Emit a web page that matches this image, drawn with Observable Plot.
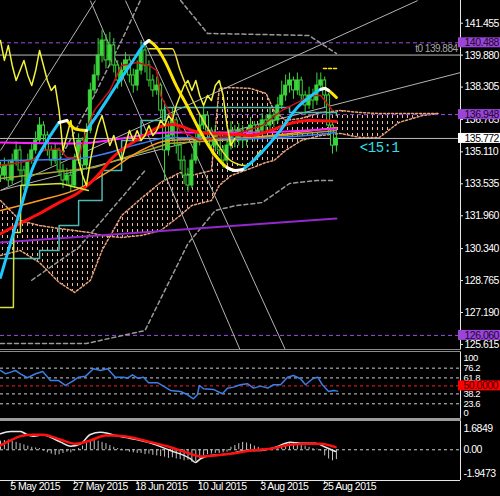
<!DOCTYPE html>
<html><head><meta charset="utf-8">
<script src="https://cdn.jsdelivr.net/npm/d3@7"></script>
<script src="https://cdn.jsdelivr.net/npm/@observablehq/plot@0.6"></script>
<style>
html,body{margin:0;padding:0;background:#000;}
#chart{width:500px;height:496px;background:#000;overflow:hidden;}
#chart svg{display:block;}
#chart svg text{letter-spacing:-0.5px;}
.sep1{width:461px;height:3px;box-sizing:border-box;border-top:1px solid #8c8c8c;border-bottom:1px solid #8c8c8c;background:#000;}
.sep2{width:461px;height:3px;background:#9c9c9c;}
</style></head><body><div id="chart"></div>
<script>
// ---------- data ----------
const dates = ["5 May 2015","27 May 2015","18 Jun 2015","10 Jul 2015","3 Aug 2015","25 Aug 2015"];
const dateBars = [3,19,35,51,67,83];

const opens = [134.30,133.94,134.44,133.70,134.68,135.18,134.19,133.45,134.68,135.18,
135.67,136.41,135.92,135.18,134.68,135.18,134.19,133.70,133.94,133.45,
134.68,135.67,134.44,136.16,138.14,138.88,139.86,140.60,139.62,140.36,
139.37,138.63,139.12,139.62,138.88,138.38,139.12,140.11,139.37,138.63,
138.14,138.38,137.15,135.18,135.92,136.66,135.42,134.68,133.94,133.45,
134.68,135.67,136.41,136.90,136.16,135.42,135.92,135.18,134.68,135.42,
136.16,135.67,136.16,135.67,135.92,136.41,135.92,136.16,136.66,136.41,
136.90,136.66,137.40,137.89,138.38,138.63,138.14,138.63,137.89,137.40,
137.89,137.64,138.38,138.63,137.89,136.41,135.42];
const closes = [133.94,134.44,133.70,134.68,135.18,134.19,133.45,134.68,135.18,135.67,
136.41,135.92,135.18,134.68,135.18,134.19,133.70,133.94,133.45,134.68,
135.67,134.44,136.16,138.14,138.88,139.86,140.60,139.62,140.36,139.37,
138.63,139.12,139.62,138.88,138.38,139.12,140.11,139.37,138.63,138.14,
138.38,137.15,135.18,135.92,136.66,135.42,134.68,133.94,133.45,134.68,
135.67,136.41,136.90,136.16,135.42,135.92,135.18,134.68,135.42,136.16,
135.67,136.16,135.67,135.92,136.41,135.92,136.16,136.66,136.41,136.90,
136.66,137.40,137.89,138.38,138.63,138.14,138.63,137.89,137.40,137.89,
137.64,138.38,138.63,137.89,136.41,135.42,135.77];
const highs = [134.6,134.8,134.7,135.0,135.6,135.4,134.4,135.0,135.5,136.1,
136.8,136.6,136.1,135.4,135.5,135.3,134.5,134.3,134.2,135.0,
136.0,135.8,136.5,138.5,139.4,140.7,141.1,140.9,141.0,140.7,
139.6,139.5,140.0,139.8,139.2,139.6,140.6,140.4,139.6,138.9,
138.8,138.5,137.6,136.6,137.3,136.8,135.6,134.9,134.3,135.0,
136.0,136.9,137.5,137.1,136.3,136.4,136.1,135.4,135.8,136.6,
136.4,136.5,136.4,136.3,136.8,136.6,136.5,137.0,136.9,137.3,
137.1,137.8,138.6,138.9,139.0,138.8,139.0,138.8,138.1,138.3,
138.2,139.0,139.0,138.8,138.0,136.6,136.3];
const lows = [133.6,133.7,133.4,133.5,134.4,133.9,133.2,133.3,134.5,135.0,
135.5,135.6,134.9,134.4,134.5,133.9,133.3,133.4,133.1,133.3,
134.5,133.4,134.2,136.0,137.9,138.6,139.5,139.2,139.3,139.0,
138.2,138.3,138.9,138.5,138.0,138.1,138.9,139.0,138.3,137.8,
137.9,136.8,133.7,134.9,135.6,135.0,134.2,133.5,133.1,133.3,
134.5,135.4,136.2,135.8,135.0,135.1,134.9,134.3,134.5,135.2,
135.3,135.4,135.3,135.4,135.7,135.6,135.7,136.0,136.1,136.2,
136.3,136.5,137.2,137.6,138.0,137.7,137.9,137.5,136.9,137.2,
137.2,137.4,138.1,137.3,135.9,135.0,135.1];

// Ichimoku cloud (bar index, span A, span B)
const cloudIdx = [0,5,10,15,19,23,26,28,31,36,41,46,49,54,56,59,64,68,70,73,77,82,87,92,97,102,108,112];
const spanA = [132.71,131.73,131.48,131.33,131.23,131.13,130.99,130.94,131.97,132.81,133.60,134.09,133.95,134.19,138.24,138.28,138.24,137.99,137.15,136.66,136.76,137.05,137.15,137.05,137.00,137.00,137.00,137.00];
const spanB = [130.00,130.25,129.65,128.67,128.18,128.77,130.25,130.94,130.89,130.99,131.23,131.97,132.47,132.71,133.45,133.94,134.29,134.59,134.68,135.18,135.67,135.92,136.02,135.82,135.82,136.56,136.90,137.00];

// indicator lines: [bar index, price]
const trendLine = [[0,128.92],[5,132.22],[8,134.19],[12,135.67],[15,136.56],[17,136.66],[19,136.26],[22,136.16],[25,137.00],[30,138.48],[34,139.62],[37,140.45],[38,140.60],[40,140.26],[42,139.62],[45,138.38],[48,137.30],[51,136.16],[55,134.93],[58,134.34],[60,134.19],[62,134.24],[64,134.54],[68,135.32],[72,136.26],[76,137.30],[79,137.79],[82,138.19],[83,138.24],[84,138.14],[86,137.79]];
const trendUp = [[0,16],[22,38],[61,83]];
const trendDown = [[17,22],[38,60],[83,86]];
const trendTurn = [[15,18],[20,23],[37,39],[58,62],[82,84]];
const yellow2 = [[38,140.20],[44,140.20],[46,139.12],[48.6,137.89],[51.2,136.90],[55,135.67],[58.9,134.68],[62.7,134.44],[66.6,135.18]];
const redMA = [[0,131.08],[5,131.58],[10,132.07],[15,132.61],[20,133.11],[26,134.19],[28,134.68],[36,135.82],[41,136.36],[44,136.46],[51,136.07],[59,135.97],[64,135.92],[69,136.16],[74,136.51],[79,136.66],[86,136.61]];
const magentaMA = [[0,135.57],[20,135.52],[31,135.77],[43,136.06],[64,136.06],[86,136.26]];
const blueMA = [[0,134.68],[20,134.78],[36,135.52],[43,135.82],[64,135.77],[86,136.07]];
const orangeMA = [[0,132.22],[10,132.71],[20,133.30],[28,134.19],[36,135.18],[43,135.67],[64,135.82],[86,136.31]];
const tealLine = [[0,129.85],[10,130.25],[15,131.48],[20,132.71],[26,134.19],[31,135.67],[36,136.66],[42,137.30],[68,137.30],[74,137.05],[86,136.90]];
const oliveMA = [[0,133.80],[24,134.34],[43,135.52],[64,135.77],[86,136.16]];
const tenkan = [[0,134.44],[8,134.68],[11,135.18],[15,135.27],[17,134.83],[20,134.78],[22,136.16],[24,137.15],[28,138.14],[31,139.37],[35,139.52],[38,139.37],[40,139.12],[41,137.89],[43,137.15],[46,136.16],[51,135.67],[59,135.92],[67,136.41],[72,137.15],[77,137.64],[80,137.89],[82,137.89],[85,137.15]];
const purpleMA = [[0,130.64],[86,131.82]];
const stepYellow = [[0,127.44],[3.3,127.44],[3.4,131.13],[5.1,131.13],[5.2,133.45],[15.4,133.55],[22.5,133.21]];
const upperBand = [[15,134.68],[24,137.89],[31,140.60],[37,143.07],[44,143.07],[53,140.95],[79,140.85],[86,139.96]];
const lowerBand = [[0,125.66],[22,125.66],[37,126.30],[48,130.59],[55,132.22],[60,132.45],[67,132.61],[74,133.55],[81,133.70],[85,133.70]];
const lowerBand2 = [[8,128.78],[20,130.39],[37,134.19]];
const highMark = [[82.7,139.22],[86.3,139.22]];
// straight trend / fan lines: [bar1, price1, bar2, price2]
const grayLines = [[0,135.18,24.3,142.57],[23,142.57,61.4,125.32],[32,142.57,73,125.32],[0,133.21,106.8,142.57],[0,133.21,117.77,139.02]];

const priceTicks = [141.455,139.880,138.305,136.705,135.110,133.535,131.960,130.340,128.765,127.190,125.615];
const purpleLevels = [140.488,136.948,126.060];
const t0Level = 139.884;
const currentPrice = 135.772;
const ratioLabel = "<15:1";
const ratioPos = [92, 135.32];

// oscillator (blue) [bar index, value]
const oscLine = [[0,72.8],[1.3,67.9],[2.6,70.3],[3.8,72.8],[5.1,67.9],[6.9,62],[9,67.9],[10.8,71.3],[12.8,58],[14.8,58],[16.6,50.7],[18.4,56.6],[20,62.9],[21.8,64.4],[23.8,75.3],[25.6,72.8],[27.4,75.3],[29.4,62.9],[31.5,62.9],[32.5,61.4],[33.8,66.4],[35.1,61.4],[36.6,62.9],[37.9,54.7],[40.2,54.7],[41.7,49.8],[43.5,43.3],[46.1,41.8],[47.9,36.9],[49.4,31],[50.4,36.9],[50.9,50.6],[52,45.8],[54.5,44.8],[56.8,38.4],[58.1,46.7],[59.7,48.2],[61.4,51.7],[63.2,53.2],[64.8,46.7],[66.6,49.7],[68.4,46.7],[69.9,51.7],[71.7,51.7],[73.5,62.9],[75,65.4],[76.8,60.6],[78.1,51.7],[79.9,60.6],[81.2,62.9],[82.4,51.7],[84,41.8],[85.3,43.3],[86.3,42.3]];
const oscLevels = [76.2,61.8,38.2,23.6];

// MACD
const macdHist = [0.7,0.75,0.8,0.7,0.6,0.5,0.4,0.3,0.2,0.15,
0.1,-0.1,-0.25,-0.35,-0.45,-0.4,-0.3,-0.2,-0.25,-0.1,
0.1,0.3,0.5,0.7,0.75,0.7,0.6,0.5,0.35,0.2,
0.1,0.05,-0.1,-0.2,-0.25,-0.3,-0.3,-0.4,-0.35,-0.45,
-0.5,-0.55,-0.6,-0.7,-0.65,-0.75,-0.8,-0.9,-0.85,-1.0,
-0.95,-0.7,-0.5,-0.4,-0.35,-0.3,-0.3,-0.25,-0.2,0.2,
0.35,0.5,0.6,0.55,0.45,0.3,0.2,0.1,0.05,-0.05,
0.05,0.1,0.2,0.35,0.5,0.55,0.5,0.4,0.3,0.2,
0.1,0.05,-0.1,-0.5,-0.75,-0.9,-0.8];
const macdWhite = [[0,1.30],[2.6,1.49],[5.1,1.49],[6.4,1.30],[8.4,1.11],[11,1.22],[12.8,1.02],[15.4,0.62],[17.9,0.29],[20.5,0.49],[23,1.24],[25.6,1.43],[27.4,1.35],[29.4,1.16],[33.3,0.92],[38.4,0.54],[43.5,-0.06],[48.6,-0.73],[49.9,-1.03],[51.2,-0.73],[53.8,-0.46],[58.9,-0.33],[62.7,-0.06],[66.6,-0.06],[70.4,0.21],[74.2,0.62],[76.8,0.54],[80.6,0.54],[83.2,0.21],[85.8,-0.14]];
const macdRed = [[0,0.35],[2.6,0.76],[5.1,1.11],[8.4,1.22],[11,1.22],[15.4,0.81],[19.2,0.49],[23,0.76],[26.9,1.16],[29.4,1.16],[33.3,1.02],[38.4,0.62],[43.5,0.21],[48.6,-0.33],[51.2,-0.54],[55,-0.46],[58.9,-0.33],[64,-0.06],[69.1,0.08],[74.2,0.41],[79.4,0.49],[81.9,0.49],[85.8,0.21]];
const macdLabels = [1.6849, 0, -1.9473];

// ---------- drawing ----------
const FONT = '"Liberation Sans",Arial,sans-serif';
const FS = 10.5;
const XMAX = 117.77;
const GREEN = "#3bd63b";
const PURPLE = "#9b4fe0";
const AXIS = "#e6e6e6";
const baseStyle = {background: "#000", color: "#fff", fontFamily: FONT, fontSize: "10.5px", overflow: "hidden"};
const P = a => a.map(([i, v]) => ({i, v}));
const bars = closes.map((c, i) => ({i, o: opens[i], h: highs[i], l: lows[i], c}));
const cloud = cloudIdx.map((i, k) => ({i, a: spanA[k], b: spanB[k]}));
const chikou = closes.slice(26).map((c, k) => ({i: k, v: c}));
const trendPts = P(trendLine);
const inRange = ([a, b]) => trendPts.filter(d => d.i >= a && d.i <= b);
const ln = (arr, o) => Plot.line(P(arr), {x: "i", y: "v", ...o});
const lbl = {textAnchor: "start", fill: "#fff", fontSize: FS, fontFamily: FONT};
const lblS = {...lbl, fontSize: 9.5};

const chart = document.getElementById("chart");

// main price panel
const main = Plot.plot({
  width: 500, height: 349, marginLeft: 0, marginRight: 40, marginTop: 0, marginBottom: 0,
  style: baseStyle,
  x: {domain: [0, XMAX], axis: null},
  y: {domain: [125.365, 142.574], axis: null},
  marks: [
    Plot.areaY(cloud, {x: "i", y1: "a", y2: "b", fill: "url(#cloudDots)"}),
    Plot.line(cloud, {x: "i", y: "a", stroke: "#e8a07a", strokeDasharray: "2,2"}),
    Plot.line(cloud, {x: "i", y: "b", stroke: "#e8a07a", strokeDasharray: "2,2"}),
    Plot.ruleY(purpleLevels, {x1: 0, x2: XMAX, stroke: PURPLE, strokeDasharray: "4,3"}),
    Plot.ruleY([t0Level, currentPrice], {x1: 0, x2: XMAX, stroke: "#bdbdbd"}),
    Plot.link(grayLines, {x1: d => d[0], y1: d => d[1], x2: d => d[2], y2: d => d[3], stroke: "#b4b4b4"}),
    ln(upperBand, {stroke: "#9a9a9a", strokeDasharray: "4,3"}),
    ln(lowerBand, {stroke: "#9a9a9a", strokeDasharray: "4,3"}),
    ln(lowerBand2, {stroke: "#9a9a9a", strokeDasharray: "4,3"}),
    ln(purpleMA, {stroke: "#9428c8", strokeWidth: 2}),
    Plot.ruleX(bars, {x: "i", y1: "l", y2: "h", stroke: GREEN}),
    Plot.rect(bars, {x1: d => d.i - 0.38, x2: d => d.i + 0.38, y1: "o", y2: "c", fill: d => d.c >= d.o ? GREEN : "#000", stroke: GREEN}),
    ln(oliveMA, {stroke: "#a6a636"}),
    ln(tealLine, {stroke: "#4fb8b0", curve: "step-after"}),
    ln(orangeMA, {stroke: "#ff9a1e", curve: "monotone-x"}),
    ln(blueMA, {stroke: "#3a7cff", strokeWidth: 1.5, curve: "monotone-x"}),
    ln(magentaMA, {stroke: "#ff22ff", strokeWidth: 2, curve: "monotone-x"}),
    ln(tenkan, {stroke: "#c41414"}),
    ln(redMA, {stroke: "#ff1010", strokeWidth: 3, curve: "monotone-x"}),
    ln(stepYellow, {stroke: "#d2e23c"}),
    Plot.line(chikou, {x: "i", y: "v", stroke: "#f2f23a"}),
    ln(yellow2, {stroke: "#f0e030", strokeWidth: 1.5, curve: "monotone-x"}),
    ...trendUp.map(r => Plot.line(inRange(r), {x: "i", y: "v", stroke: "#1ec8ff", strokeWidth: 3, curve: "monotone-x"})),
    ...trendDown.map(r => Plot.line(inRange(r), {x: "i", y: "v", stroke: "#ffe600", strokeWidth: 3, curve: "monotone-x"})),
    ...trendTurn.map(r => Plot.line(inRange(r), {x: "i", y: "v", stroke: "#ffffff", strokeWidth: 3, curve: "monotone-x"})),
    ln(highMark, {stroke: "#ffe600", strokeDasharray: "3,2"}),
    Plot.text([t0Level], {x: XMAX, y: d => d, dx: -3, dy: -6, text: d => "t0 " + d.toFixed(3), textAnchor: "end", fill: "#a8a8a8", fontSize: 10, fontFamily: FONT}),
    Plot.text([ratioLabel], {x: ratioPos[0], y: ratioPos[1], text: d => d, textAnchor: "start", fill: "#2ee0ee", fontSize: 14, fontFamily: '"Liberation Mono","DejaVu Sans Mono",monospace'}),
    Plot.ruleX([XMAX], {stroke: AXIS}),
    Plot.ruleY(priceTicks, {x1: XMAX, x2: XMAX, insetRight: -3, stroke: AXIS}),
    Plot.text(priceTicks, {x: XMAX, y: d => d, dx: 4, text: d => d.toFixed(3), ...lbl}),
    Plot.rect(purpleLevels, {x1: XMAX, x2: XMAX, y1: d => d, y2: d => d, insetLeft: -2, insetRight: -41, insetTop: -5, insetBottom: -5, fill: "#9a44d8"}),
    Plot.text(purpleLevels, {x: XMAX, y: d => d, dx: 4, text: d => d.toFixed(3), ...lbl, fill: "#1a0828"}),
    Plot.rect([currentPrice], {x1: XMAX, x2: XMAX, y1: d => d, y2: d => d, insetLeft: -2, insetRight: -41, insetTop: -5, insetBottom: -5, fill: "#fff"}),
    Plot.text([currentPrice], {x: XMAX, y: d => d, dx: 4, text: d => d.toFixed(3), ...lbl, fill: "#000"})
  ]
});
const defs = d3.select(main).insert("defs", ":first-child");
const pat = defs.append("pattern").attr("id", "cloudDots").attr("patternUnits", "userSpaceOnUse").attr("width", 5).attr("height", 6);
pat.append("rect").attr("x", 2).attr("y", 1).attr("width", 1).attr("height", 3).attr("fill", "#f2bc9c");
chart.appendChild(main);

const s1 = document.createElement("div"); s1.className = "sep1"; chart.appendChild(s1);

// oscillator panel
const osc = Plot.plot({
  width: 500, height: 66, marginLeft: 0, marginRight: 40, marginTop: 0, marginBottom: 0,
  style: baseStyle,
  x: {domain: [0, XMAX], axis: null},
  y: {domain: [1.9, 99.3], axis: null},
  marks: [
    Plot.ruleY(oscLevels, {x1: 0, x2: XMAX, stroke: "#cfcfcf", strokeDasharray: "3,3"}),
    Plot.ruleY([50], {x1: 0, x2: XMAX, stroke: "#ff2020", strokeDasharray: "3,3"}),
    ln(oscLine, {stroke: "#3a7ee6"}),
    Plot.ruleX([XMAX], {stroke: AXIS}),
    Plot.text(oscLevels, {x: XMAX, y: d => d, dx: 3, text: d => String(d), ...lblS}),
    Plot.text([100], {x: XMAX, y: d => d, dx: 3, dy: 6, text: d => String(d), ...lblS}),
    Plot.text([0], {x: XMAX, y: d => d, dx: 3, dy: -6.5, text: d => String(d), ...lblS}),
    Plot.rect([50], {x1: XMAX, x2: XMAX, y1: d => d, y2: d => d, insetLeft: -2, insetRight: -41, insetTop: -5, insetBottom: -5, fill: "#ff0000"}),
    Plot.text([50], {x: XMAX, y: d => d, dx: 3, text: d => d.toFixed(4), ...lbl, fill: "#3a0000"})
  ]
});
chart.appendChild(osc);

const s2 = document.createElement("div"); s2.className = "sep2"; chart.appendChild(s2);

// MACD panel
const macd = Plot.plot({
  width: 500, height: 75, marginLeft: 0, marginRight: 40, marginTop: 0, marginBottom: 16,
  style: baseStyle,
  x: {domain: [0, XMAX], axis: null},
  y: {domain: [-2.50, 2.30], axis: null},
  marks: [
    Plot.ruleY([0], {x1: 0, x2: XMAX, stroke: "#cfcfcf", strokeDasharray: "3,3"}),
    Plot.ruleX(macdHist.map((v, i) => ({i, v})), {x: "i", y1: 0, y2: "v", stroke: "#c4c4c4"}),
    ln(macdWhite, {stroke: "#e8e8e8", curve: "monotone-x"}),
    ln(macdRed, {stroke: "#ff1010", strokeWidth: 2.5, curve: "monotone-x"}),
    Plot.ruleX([XMAX], {stroke: AXIS}),
    Plot.ruleY([-2.50], {x1: 0, x2: XMAX, stroke: AXIS}),
    Plot.ruleX(dateBars, {y1: -2.50, y2: -2.50, insetBottom: -4, stroke: AXIS}),
    Plot.text(dateBars, {x: d => d, frameAnchor: "bottom", dy: 9, dx: -2, text: (d, k) => dates[k], ...lbl}),
    Plot.text(macdLabels, {x: XMAX, y: d => d, dx: 3, text: d => d === 0 ? "0.00" : d.toFixed(4), ...lbl})
  ]
});
chart.appendChild(macd);
</script></body></html>
